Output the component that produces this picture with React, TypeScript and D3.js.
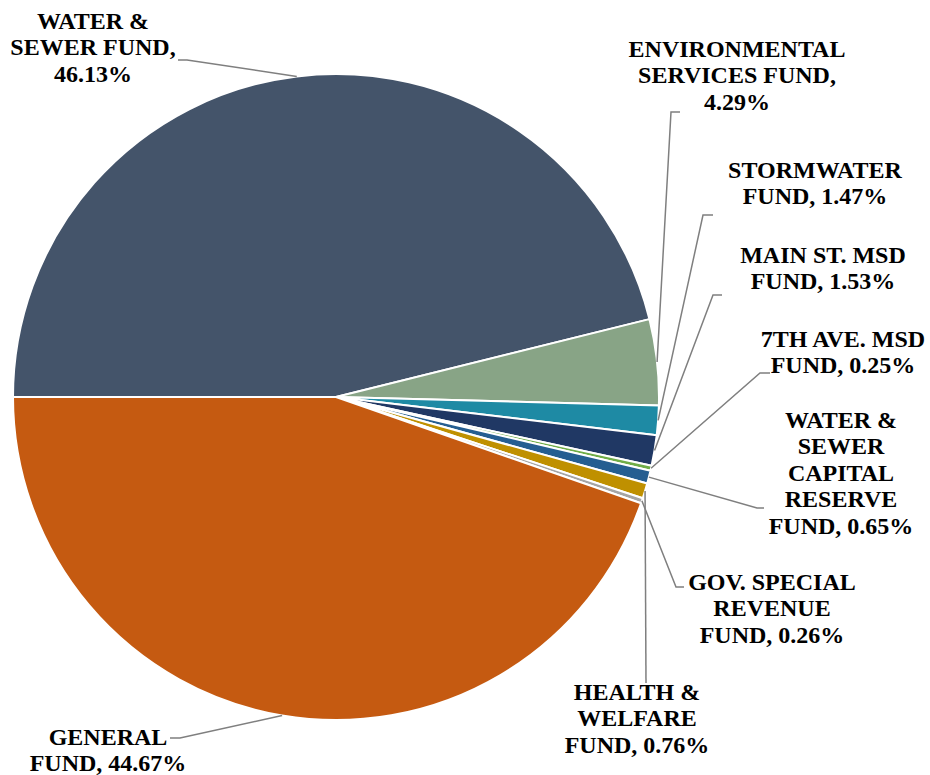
import React, { useEffect, useState } from "react";
import * as d3 from "d3";

// Fund shares of the total budget, in the order they run round the pie
const funds = [
  "WATER & SEWER FUND",
  "ENVIRONMENTAL SERVICES FUND",
  "STORMWATER FUND",
  "MAIN ST. MSD FUND",
  "7TH AVE. MSD FUND",
  "WATER & SEWER CAPITAL RESERVE FUND",
  "HEALTH & WELFARE FUND",
  "GOV. SPECIAL REVENUE FUND",
  "GENERAL FUND",
];
const shares = [46.13, 4.29, 1.47, 1.53, 0.25, 0.65, 0.76, 0.26, 44.67];
const colors = [
  "#44546A",
  "#88A486",
  "#1E8AA4",
  "#203864",
  "#70AD47",
  "#255E91",
  "#BF9000",
  "#A5A5A5",
  "#C55A11",
];

// Label layout: words per line, whether the percentage gets its own line,
// text centre / first baseline, and the leader elbow + end point
type LabelLayout = {
  wrap: number[];
  valueLine: boolean;
  cx: number;
  y: number;
  elbow: [number, number];
  end: [number, number] | null;
};
const labelLayout: LabelLayout[] = [
  { wrap: [2, 2], valueLine: true, cx: 93, y: 29, elbow: [187, 60], end: [178, 60] },
  { wrap: [1, 2], valueLine: true, cx: 737, y: 57, elbow: [671, 112], end: [680, 112] },
  { wrap: [1, 1], valueLine: false, cx: 815, y: 178, elbow: [703, 215], end: [713, 215] },
  { wrap: [3, 1], valueLine: false, cx: 823, y: 263, elbow: [713, 295], end: [722, 295] },
  { wrap: [3, 1], valueLine: false, cx: 843, y: 347, elbow: [760, 373], end: [770, 373] },
  { wrap: [2, 1, 1, 1, 1], valueLine: false, cx: 841, y: 428, elbow: [757, 508], end: [764, 508] },
  { wrap: [2, 1, 1], valueLine: false, cx: 637, y: 700, elbow: [646, 683], end: null },
  { wrap: [2, 1, 1], valueLine: false, cx: 772, y: 590, elbow: [676, 587], end: [684, 587] },
  { wrap: [1, 1], valueLine: false, cx: 108, y: 745, elbow: [180, 738], end: [170, 738] },
];

const W = 930;
const H = 775;
const CX = 336;
const CY = 397;
const R = 323;
const LINE_H = 26.4;
const FONT_SIZE = 24;
const FONT_FAMILY = "Liberation Serif, Times New Roman, serif";

function labelLines(name: string, value: number, lay: LabelLayout): string[] {
  const words = name.split(" ");
  const lines: string[] = [];
  let i = 0;
  lay.wrap.forEach((n) => {
    lines.push(words.slice(i, i + n).join(" "));
    i += n;
  });
  const pct = `${value.toFixed(2)}%`;
  lines[lines.length - 1] += ",";
  if (lay.valueLine) lines.push(pct);
  else lines[lines.length - 1] += " " + pct;
  return lines;
}

export default function App() {
  // re-lay the labels once the serif face has been loaded
  const [fontPass, setFontPass] = useState(0);
  useEffect(() => {
    const fonts = (document as any).fonts;
    if (!fonts || !fonts.load) return;
    fonts
      .load(`bold ${FONT_SIZE}px "Liberation Serif"`)
      .then(() => fonts.ready)
      .then(() => setFontPass((p) => p + 1))
      .catch(() => undefined);
  }, []);

  const pie = d3
    .pie<number>()
    .sort(null)
    .value((d) => d)
    .startAngle(-Math.PI / 2)
    .endAngle((3 * Math.PI) / 2);
  const arcs = pie(shares);
  const arc = d3.arc<d3.PieArcDatum<number>>().innerRadius(0).outerRadius(R);
  const edge = d3.arc<d3.PieArcDatum<number>>().innerRadius(R).outerRadius(R);

  return (
    <svg
      width={W}
      height={H}
      style={{ position: "absolute", left: 0, top: 0, background: "#fff" }}
    >
      <g transform={`translate(${CX},${CY})`}>
        {arcs.map((a, i) => (
          <path
            key={funds[i]}
            d={arc(a) ?? ""}
            fill={colors[i]}
            stroke="#fff"
            strokeWidth={2}
            strokeLinejoin="round"
          />
        ))}
      </g>
      <g fill="none" stroke="#7F7F7F" strokeWidth={1.5}>
        {arcs.map((a, i) => {
          const lay = labelLayout[i];
          const [px, py] = edge.centroid(a);
          const pts: [number, number][] = [[CX + px, CY + py], lay.elbow];
          if (lay.end) pts.push(lay.end);
          return <path key={funds[i]} d={d3.line()(pts) ?? ""} />;
        })}
      </g>
      <g key={fontPass}>
        {funds.map((name, i) => {
          const lay = labelLayout[i];
          const lines = labelLines(name, shares[i], lay);
          return (
            <text
              key={name}
              x={lay.cx}
              y={lay.y}
              fill="#000"
              fontSize={FONT_SIZE}
              fontWeight="bold"
              fontFamily={FONT_FAMILY}
              textAnchor="middle"
            >
              {lines.map((l, j) => (
                <tspan key={j} x={lay.cx} y={lay.y + j * LINE_H}>
                  {l}
                </tspan>
              ))}
            </text>
          );
        })}
      </g>
    </svg>
  );
}
